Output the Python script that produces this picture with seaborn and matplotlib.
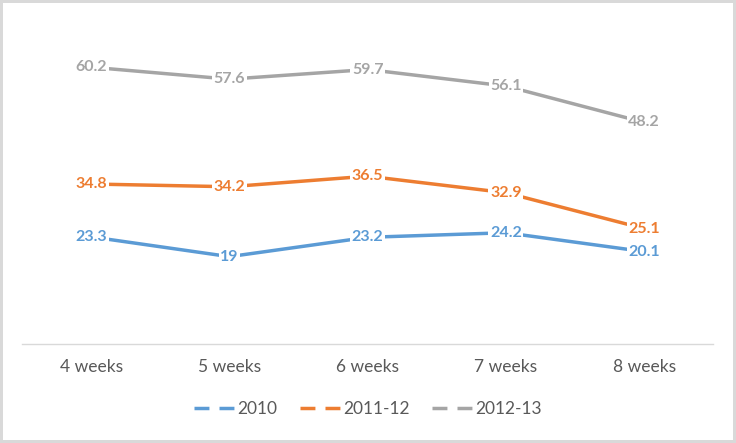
import seaborn as sns
import matplotlib.pyplot as plt
import pandas as pd
from matplotlib.lines import Line2D

categories = ['4 weeks', '5 weeks', '6 weeks', '7 weeks', '8 weeks']
series_names = ['2010', '2011-12', '2012-13']
values_2010 = [23.3, 19, 23.2, 24.2, 20.1]
values_2011 = [34.8, 34.2, 36.5, 32.9, 25.1]
values_2012 = [60.2, 57.6, 59.7, 56.1, 48.2]
colors = ['#5B9BD5', '#ED7D31', '#A5A5A5']

rows = []
for name, vals in zip(series_names, [values_2010, values_2011, values_2012]):
    for i, v in enumerate(vals):
        rows.append({'x': i, 'category': categories[i], 'series': name, 'value': v})
df = pd.DataFrame(rows)

sns.set_style('white')
plt.rcParams['font.family'] = ['Lato', 'DejaVu Sans']

fig = plt.figure(figsize=(7.36, 4.43), dpi=100)
fig.patch.set_edgecolor('#d9d9d9')
fig.patch.set_linewidth(3)
ax = fig.add_axes([0.03, 0.2235, 0.939, 0.7265])

palette = dict(zip(series_names, colors))
sns.lineplot(data=df, x='x', y='value', hue='series', palette=palette,
             linewidth=2.5, ax=ax, legend=False)

# value labels sit on the points, white box breaks the line
for name, vals in zip(series_names, [values_2010, values_2011, values_2012]):
    for i, v in enumerate(vals):
        ax.text(i, v, f'{v:g}', ha='center', va='center', fontsize=11.5,
                fontweight='bold', color=palette[name],
                bbox=dict(facecolor='white', edgecolor='none', pad=1.2))

ax.set_xlim(-0.5, len(categories) - 0.5)
ax.set_ylim(0, 70)
ax.set_xticks(range(len(categories)))
ax.set_xticklabels(categories, fontsize=12.5, color='#595959')
ax.tick_params(axis='x', length=0, pad=11)
ax.set_yticks([])
ax.set_xlabel('')
ax.set_ylabel('')
for side in ['top', 'left', 'right']:
    ax.spines[side].set_visible(False)
ax.spines['bottom'].set_color('#d9d9d9')
ax.spines['bottom'].set_linewidth(1)

handles = [Line2D([0], [0], color=c, linewidth=2.5, dashes=(4.3, 2.9)) for c in colors]
fig.legend(handles, series_names, loc='center', bbox_to_anchor=(0.5, 0.077),
           ncol=3, frameon=False, fontsize=12.5, labelcolor='#595959',
           handlelength=2.4, columnspacing=1.3, handletextpad=0.1)

plt.savefig('out.png', dpi=100)
plt.close()
